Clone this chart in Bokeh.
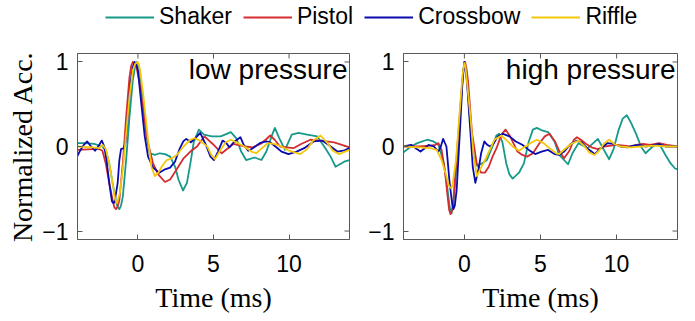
from bokeh.plotting import figure
from bokeh.models import Range1d, Legend, LegendItem, Label, FixedTicker
from bokeh.layouts import column, row
from bokeh.embed import file_html
from bokeh.resources import INLINE

names = ["Shaker", "Pistol", "Crossbow", "Riffle"]
colors = ["#17998a", "#d52c30", "#0a0aae", "#f4c80a"]

# ---- low pressure traces (time in ms, normalized acceleration) ----
low_shaker_t = [-4.0, -3.5, -2.9, -2.35, -2.1, -1.9, -1.68, -1.45, -1.34, -1.23, -1.12, -1.0, -0.78, -0.56,
                -0.34, -0.2, -0.08, 0.02, 0.11, 0.34, 0.56, 0.78, 1.12, 1.45, 1.79, 2.13, 2.46, 2.68, 2.98,
                3.24, 3.47, 3.69, 4.03, 4.37, 4.9, 5.48, 6.15, 6.5, 6.83, 7.16, 7.72, 8.17, 8.5, 8.84, 9.06,
                9.35, 9.73, 10.18, 10.63, 11.2, 11.86, 12.4, 12.75, 13.08, 13.65, 14.0]
low_shaker_v = [0.04, 0.04, 0.03, 0.0, -0.06, -0.2, -0.43, -0.65, -0.72, -0.74, -0.7, -0.59, -0.16, 0.35,
                0.78, 0.94, 1.0, 0.98, 0.9, 0.55, 0.12, -0.08, -0.1, -0.08, -0.09, -0.12, -0.24, -0.39, -0.52,
                -0.43, -0.2, 0.05, 0.2, 0.14, 0.12, 0.12, 0.17, 0.1, -0.06, -0.16, -0.13, -0.16, -0.06, 0.12, 0.22,
                0.1, -0.04, 0.14, 0.16, 0.14, 0.12, -0.02, -0.12, -0.24, -0.18, -0.16]

low_pistol_t = [-4.0, -3.0, -2.57, -2.35, -2.13, -1.9, -1.68, -1.56, -1.45, -1.34, -1.23, -1.0, -0.78,
                -0.56, -0.45, -0.34, -0.22, -0.11, 0.11, 0.34, 0.67, 1.0, 1.34, 1.79, 2.13, 2.57, 3.02, 3.47,
                3.91, 4.4, 4.95, 5.55, 6.3, 7.1, 7.6, 8.1, 8.45, 8.75, 9.05, 9.4, 9.85, 10.29, 10.8, 11.41,
                12.08, 12.98, 14.0]
low_pistol_v = [-0.04, -0.03, -0.03, -0.05, -0.2, -0.43, -0.63, -0.72, -0.74, -0.71, -0.63, -0.2, 0.35,
                0.82, 0.95, 1.0, 0.99, 0.95, 0.75, 0.43, 0.04, -0.2, -0.33, -0.42, -0.39, -0.27, -0.14, -0.06,
                0.0, 0.12, 0.03, -0.08, 0.03, 0.0, -0.01, 0.03, 0.08, 0.13, 0.08, 0.0, -0.01, -0.02, 0.03, 0.08,
                0.07, 0.05, -0.01]

low_crossbow_t = [-4.0, -3.8, -3.58, -3.36, -3.1, -2.84, -2.6, -2.39, -2.23, -2.08, -1.9, -1.72, -1.62,
                  -1.55, -1.34, -1.23, -1.12, -0.94, -0.82, -0.67, -0.49, -0.35, -0.22, -0.1, 0.0, 0.22, 0.45,
                  0.67, 1.0, 1.41, 1.79, 2.13, 2.45, 2.75, 3.0, 3.2, 3.5, 3.8, 4.12, 4.5, 4.8, 5.03, 5.3, 5.6,
                  5.85, 6.05, 6.4, 6.78, 7.0, 7.3, 7.6, 8.06, 8.5, 8.75, 9.1, 9.5, 9.96, 10.5, 11.0, 11.63,
                  12.19, 12.6, 13.2, 13.6, 14.0]
low_crossbow_v = [-0.11, -0.04, 0.02, 0.06, 0.0, -0.05, 0.01, 0.07, 0.0, -0.16, -0.43, -0.65, -0.67,
                  -0.66, -0.43, -0.16, -0.03, -0.02, 0.05, 0.35, 0.75, 0.93, 1.0, 0.97, 0.9, 0.51, 0.12,
                  -0.12, -0.25, -0.31, -0.27, -0.25, -0.18, -0.03, 0.06, 0.09, 0.05, 0.1, 0.16, 0.02, -0.12, -0.16,
                  -0.06, 0.07, 0.04, -0.01, 0.06, 0.11, 0.02, -0.05, -0.02, 0.04, 0.06, 0.05, 0.0, -0.06, -0.09,
                  -0.06, -0.02, 0.06, 0.07, 0.02, -0.06, -0.05, -0.02]

low_riffle_t = [-4.0, -3.0, -2.57, -2.35, -2.13, -1.9, -1.68, -1.5, -1.39, -1.2, -1.0, -0.78, -0.56,
                -0.34, -0.18, -0.02, 0.06, 0.14, 0.34, 0.67, 0.89, 1.12, 1.35, 1.57, 1.9, 2.24, 2.57, 3.02,
                3.47, 3.75, 4.1, 4.59, 4.85, 5.1, 5.4, 5.8, 6.15, 6.6, 7.05, 7.5, 7.83, 8.2, 8.6, 9.0, 9.5,
                10.0, 10.74, 11.2, 11.6, 12.08, 12.5, 12.9, 13.31, 13.7, 14.0]
low_riffle_v = [0.0, -0.01, -0.02, 0.02, -0.03, -0.2, -0.43, -0.63, -0.67, -0.55, -0.27, 0.16, 0.59,
                0.9, 0.98, 1.0, 0.97, 0.9, 0.63, 0.08, -0.24, -0.35, -0.31, -0.24, -0.16, -0.14, -0.1, 0.0,
                0.08, 0.1, 0.07, 0.0, -0.1, -0.15, -0.06, 0.05, 0.08, 0.04, 0.0, -0.06, -0.08, -0.02, 0.04, 0.03,
                0.0, -0.05, -0.09, -0.03, 0.07, 0.13, 0.05, -0.05, -0.09, -0.06, -0.04]

# ---- high pressure traces ----
high_shaker_t = [-4.0, -3.51, -3.09, -2.45, -2.03, -1.71, -1.4, -1.18, -0.97, -0.92, -0.84, -0.75, -0.66,
                 -0.44, -0.22, -0.1, 0.0, 0.1, 0.19, 0.4, 0.61, 0.85, 1.15, 1.48, 1.8, 2.1, 2.28, 2.5, 2.75,
                 2.96, 3.17, 3.59, 3.91, 4.23, 4.5, 4.76, 5.1, 5.5, 5.92, 6.23, 6.81, 7.1, 7.5, 8.1, 8.77,
                 9.1, 9.51, 9.8, 10.14, 10.4, 10.67, 10.95, 11.3, 11.6, 11.9, 12.25, 12.58, 12.9, 13.21,
                 13.55, 13.84, 14.0]
high_shaker_v = [-0.07, 0.0, 0.04, 0.08, 0.06, 0.02, -0.16, -0.4, -0.71, -0.76, -0.79, -0.72, -0.55,
                 -0.04, 0.55, 0.85, 1.0, 0.92, 0.75, 0.28, -0.12, -0.23, -0.2, -0.16, -0.02, 0.13, 0.15, 0.05, -0.2,
                 -0.33, -0.38, -0.31, -0.2, 0.06, 0.2, 0.22, 0.19, 0.17, 0.06, -0.1, -0.21, -0.08, 0.04, -0.02, 0.09,
                 -0.02, -0.15, -0.03, 0.2, 0.33, 0.37, 0.28, 0.14, 0.0, -0.08, -0.02, 0.03, 0.0, -0.1,
                 -0.2, -0.26, -0.27]

high_pistol_t = [-4.0, -3.0, -2.2, -1.9, -1.71, -1.5, -1.29, -1.08, -1.0, -0.91, -0.82, -0.72, -0.46,
                 -0.23, -0.08, 0.04, 0.14, 0.25, 0.5, 0.81, 1.1, 1.35, 1.6, 1.85, 2.11, 2.43, 2.7, 3.0, 3.49,
                 3.8, 4.12, 4.5, 4.9, 5.28, 5.6, 5.95, 6.25, 6.55, 6.9, 7.19, 7.4, 7.65, 8.0, 8.35, 8.77, 9.2,
                 9.62, 10.0, 10.5, 10.88, 11.3, 11.73, 12.2, 12.79, 13.3, 14.0]
high_pistol_v = [0.0, 0.0, 0.01, 0.02, 0.04, -0.04, -0.27, -0.63, -0.75, -0.8, -0.76, -0.63, 0.0,
                 0.55, 0.88, 1.0, 0.92, 0.75, 0.16, -0.2, -0.31, -0.31, -0.24, -0.12, -0.02, 0.14, 0.2, 0.12, -0.06,
                 -0.1, -0.12, -0.08, 0.03, 0.12, 0.15, 0.06, -0.06, -0.14, -0.05, 0.08, 0.11, 0.08, 0.03, -0.01,
                 -0.03, 0.0, 0.01, 0.02, 0.01, 0.0, 0.02, 0.03, 0.02, 0.04, 0.02, 0.0]

high_crossbow_t = [-4.0, -3.5, -3.2, -2.88, -2.6, -2.35, -2.0, -1.71, -1.55, -1.4, -1.18, -0.97, -0.8,
                   -0.72, -0.63, -0.51, -0.3, -0.13, 0.0, 0.08, 0.19, 0.4, 0.55, 0.72, 0.93, 1.1, 1.31, 1.5,
                   1.69, 1.9, 2.2, 2.54, 2.96, 3.38, 3.8, 4.23, 4.65, 5.07, 5.5, 5.92, 6.23, 6.55, 6.97, 7.4,
                   7.7, 8.05, 8.35, 8.56, 8.9, 9.4, 9.8, 10.25, 10.7, 11.1, 11.52, 11.9, 12.3, 12.79, 13.2, 14.0]
high_crossbow_v = [0.0, 0.02, -0.02, -0.06, -0.02, 0.02, 0.0, -0.06, 0.0, 0.09, 0.0, -0.43, -0.68,
                   -0.74, -0.7, -0.52, 0.16, 0.75, 1.0, 0.93, 0.71, 0.16, -0.24, -0.43, -0.27, -0.08, 0.06, 0.02,
                   0.0, 0.03, 0.12, 0.15, 0.12, 0.06, 0.02, -0.04, -0.09, -0.06, -0.04, -0.09, -0.1, -0.06, 0.03, 0.07,
                   0.05, -0.02, -0.06, -0.09, -0.03, 0.04, 0.03, 0.0, -0.01, 0.01, 0.02, 0.0, 0.01, 0.03, 0.0, 0.0]

high_riffle_t = [-4.0, -3.0, -2.24, -1.82, -1.5, -1.18, -1.05, -0.93, -0.85, -0.78, -0.55, -0.3, -0.12,
                 0.0, 0.08, 0.15, 0.4, 0.61, 0.82, 1.03, 1.25, 1.56, 1.98, 2.43, 2.8, 3.17, 3.59, 4.0, 4.44,
                 4.76, 5.2, 5.6, 6.02, 6.23, 6.6, 7.0, 7.5, 7.9, 8.2, 8.56, 8.85, 9.19, 9.51, 9.85, 10.25,
                 10.9, 11.6, 12.58, 13.3, 14.0]
high_riffle_v = [0.0, -0.01, -0.02, -0.04, -0.16, -0.35, -0.45, -0.49, -0.49, -0.45, -0.16, 0.43, 0.85,
                 0.99, 0.94, 0.8, 0.35, -0.12, -0.35, -0.27, -0.2, -0.08, 0.08, 0.13, 0.07, 0.0, -0.05, 0.0, 0.05,
                 0.08, 0.04, -0.02, -0.08, -0.09, -0.03, 0.03, 0.07, 0.0, -0.07, -0.1, -0.05, 0.04, 0.08, 0.03, 0.0,
                 -0.01, 0.0, 0.01, 0.0, 0.0]

x_ticks = [0, 5, 10]
y_ticks = [-1, 0, 1]
x_lim = (-4, 14)
y_lim = (-1.1, 1.1)

low_series = [(low_shaker_t, low_shaker_v), (low_pistol_t, low_pistol_v),
              (low_crossbow_t, low_crossbow_v), (low_riffle_t, low_riffle_v)]
high_series = [(high_shaker_t, high_shaker_v), (high_pistol_t, high_pistol_v),
               (high_crossbow_t, high_crossbow_v), (high_riffle_t, high_riffle_v)]

SANS = "Liberation Sans"
SERIF = "Liberation Serif"
FRAME = "#595959"


def panel(series, title, width, left, right, ylabel=None):
    p = figure(width=width, height=285, x_range=Range1d(*x_lim), y_range=Range1d(*y_lim),
               output_backend="svg", toolbar_location=None,
               min_border_left=left, min_border_right=right, min_border_top=17, min_border_bottom=82)
    p.grid.visible = False
    p.outline_line_color = FRAME
    p.outline_line_width = 1
    xax = p.below[0]
    yax = p.left[0]
    xax.ticker = FixedTicker(ticks=x_ticks)
    yax.ticker = FixedTicker(ticks=y_ticks)
    for ax in (xax, yax):
        ax.major_tick_in = 5
        ax.major_tick_out = 0
        ax.minor_tick_in = 0
        ax.minor_tick_out = 0
        ax.axis_line_color = FRAME
        ax.major_tick_line_color = FRAME
        ax.major_label_text_font = SANS
        ax.major_label_text_font_size = "23px"
        ax.major_label_text_color = "black"
        ax.axis_label_text_font = SERIF
        ax.axis_label_text_font_size = "28px"
        ax.axis_label_text_font_style = "normal"
        ax.axis_label_text_color = "black"
    xax.major_label_standoff = 15
    yax.major_label_standoff = 9
    xax.axis_label = "Time (ms)"
    xax.axis_label_standoff = 7
    if ylabel:
        yax.axis_label = ylabel
        yax.axis_label_standoff = 1
    # mirrored inward ticks on the top and right edges of the box
    p.scatter(x=x_ticks, y=[y_lim[1]] * len(x_ticks), marker="dash", angle=1.5708, size=10,
              line_color=FRAME, line_width=1)
    p.scatter(x=[x_lim[1]] * len(y_ticks), y=y_ticks, marker="dash", size=10,
              line_color=FRAME, line_width=1)
    for (t, v), c in zip(series, colors):
        p.line(t, v, line_color=c, line_width=1.8, line_join="round")
    p.add_layout(Label(x=x_lim[1], y=0.91, text=title, text_align="right", text_baseline="alphabetic",
                       x_offset=-2, text_font=SANS, text_font_size="28px", text_color="black"))
    return p


p_low = panel(low_series, "low pressure", 365, 77, 16, ylabel="Normalized Acc.")
p_high = panel(high_series, "high pressure", 330, 28, 18)

# legend strip across the top
strip = figure(width=695, height=36, x_range=Range1d(0, 1), y_range=Range1d(10, 11),
               output_backend="svg", toolbar_location=None, min_border=0,
               x_axis_location=None, y_axis_location=None, outline_line_color=None)
strip.grid.visible = False
items = []
for name, (t, v), c in zip(names, low_series, colors):
    r = strip.line(t, v, line_color=c, line_width=1.8)
    items.append(LegendItem(label=name, renderers=[r]))
legend = Legend(items=items, orientation="horizontal", location=(105, 6),
                glyph_width=49, glyph_height=20, label_standoff=5, spacing=11,
                padding=0, margin=0, border_line_color=None, background_fill_alpha=0,
                label_text_font=SANS, label_text_font_size="23px", label_text_color="black")
strip.add_layout(legend, "center")

layout = column(strip, row(p_low, p_high))
open("out.html", "w").write(file_html(layout, INLINE))
